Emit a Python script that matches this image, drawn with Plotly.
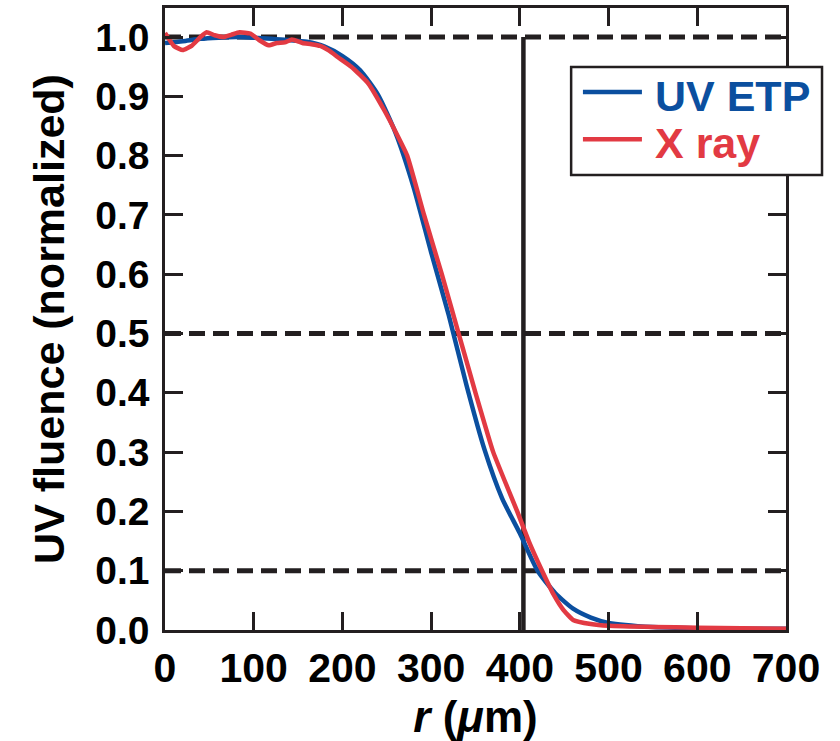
import plotly.graph_objects as go

# ---- data ----
r_uv = [0, 20, 40, 60, 80, 100, 120, 140, 160, 180, 200, 220, 240, 260, 280, 300,
        320, 340, 360, 380, 400, 420, 440, 460, 480, 500, 550, 600, 650, 700]
f_uv = [0.99, 0.993, 0.997, 0.999, 1.0, 0.999, 0.997, 0.995, 0.992, 0.984, 0.968,
        0.944, 0.903, 0.838, 0.748, 0.637, 0.53, 0.412, 0.305, 0.222, 0.163, 0.10,
        0.062, 0.036, 0.021, 0.012, 0.005, 0.003, 0.002, 0.002]

r_xr = [0, 10, 20, 30, 40, 47, 56, 66, 75, 84, 96, 106, 117, 126, 135, 143, 155, 165,
        175, 185, 195, 210, 229, 247, 260, 273, 292, 312, 331, 350, 370, 397, 410,
        425, 438, 449, 460, 480, 500, 550, 600, 650, 700]
f_xr = [1.007, 0.985, 0.978, 0.985, 1.0, 1.008, 1.003, 1.0, 1.004, 1.008, 1.006,
        0.995, 0.986, 0.99, 0.991, 0.996, 0.99, 0.988, 0.985, 0.977, 0.966, 0.95,
        0.922, 0.877, 0.84, 0.8, 0.7, 0.6, 0.5, 0.4, 0.3, 0.2, 0.15, 0.1, 0.06,
        0.034, 0.017, 0.01, 0.007, 0.005, 0.004, 0.003, 0.002]

ref_levels = [1.0, 0.5, 0.1]
r_cut = 404
x_ticks = [0, 100, 200, 300, 400, 500, 600, 700]
y_ticks = [0.0, 0.1, 0.2, 0.3, 0.4, 0.5, 0.6, 0.7, 0.8, 0.9, 1.0]
y_ticklabels = [f"{v:.1f}" for v in y_ticks]
series_names = ["UV ETP", "X ray"]

BLUE = "#0b4f9f"
RED = "#e23a43"
INK = "#231f20"
FONT = "Liberation Sans, Arial, sans-serif"

fig = go.Figure()

# reference dashed lines
for lv in ref_levels:
    fig.add_trace(go.Scatter(x=[0, 700], y=[lv, lv], mode="lines",
                             line=dict(color=INK, width=5, dash="16px,8px"),
                             showlegend=False, hoverinfo="skip"))
# vertical cut line
fig.add_trace(go.Scatter(x=[r_cut, r_cut], y=[0, 1.0], mode="lines",
                         line=dict(color=INK, width=4.5),
                         showlegend=False, hoverinfo="skip"))

fig.add_trace(go.Scatter(x=r_uv, y=f_uv, mode="lines", name=series_names[0],
                         line=dict(color=BLUE, width=4.5, shape="spline", smoothing=0.6),
                         showlegend=False))
fig.add_trace(go.Scatter(x=r_xr, y=f_xr, mode="lines", name=series_names[1],
                         line=dict(color=RED, width=4.5, shape="spline", smoothing=0.4),
                         showlegend=False))

axis_common = dict(showline=True, linecolor=INK, linewidth=2.5, mirror="ticks",
                   ticks="inside", ticklen=18, tickwidth=2.5, tickcolor=INK,
                   showgrid=False, zeroline=False, automargin=False)

fig.update_xaxes(range=[0, 700], tickvals=x_ticks, ticklabelstandoff=0,
                 tickfont=dict(family=FONT, size=41, color="black", weight="bold"),
                 title=dict(text="<i>r</i> (<i>μ</i>m)", standoff=14,
                            font=dict(family=FONT, size=44, color="black", weight="bold")),
                 **axis_common)
fig.update_yaxes(range=[0, 1.049], tickvals=y_ticks, ticktext=y_ticklabels,
                 ticklabelstandoff=5,
                 tickfont=dict(family=FONT, size=39, color="black", weight="bold"),
                 title=dict(text="UV fluence (normalized)", standoff=18,
                            font=dict(family=FONT, size=43, color="black", weight="bold")),
                 **axis_common)

# manual legend (box extends beyond the frame as in the reference)
fig.add_shape(type="rect", xref="paper", yref="paper", x0=0.654, x1=1.058,
              y0=0.7315, y1=0.905, fillcolor="white", line=dict(color=INK, width=2.5),
              layer="above")
leg_y = [0.865, 0.789]
leg_col = [BLUE, RED]
for name, yy, col in zip(series_names, leg_y, leg_col):
    fig.add_shape(type="line", xref="paper", yref="paper", x0=0.673, x1=0.768,
                  y0=yy, y1=yy, line=dict(color=col, width=4.5), layer="above")
    fig.add_annotation(xref="paper", yref="paper", x=0.786, y=yy - 0.006,
                       xanchor="left", yanchor="middle", showarrow=False,
                       text=name, font=dict(family=FONT, size=43, color=col, weight="bold"))

fig.update_layout(width=840, height=741, plot_bgcolor="white", paper_bgcolor="white",
                  margin=dict(l=165, r=54, t=8, b=111), showlegend=False)

fig.write_html("out.html")
